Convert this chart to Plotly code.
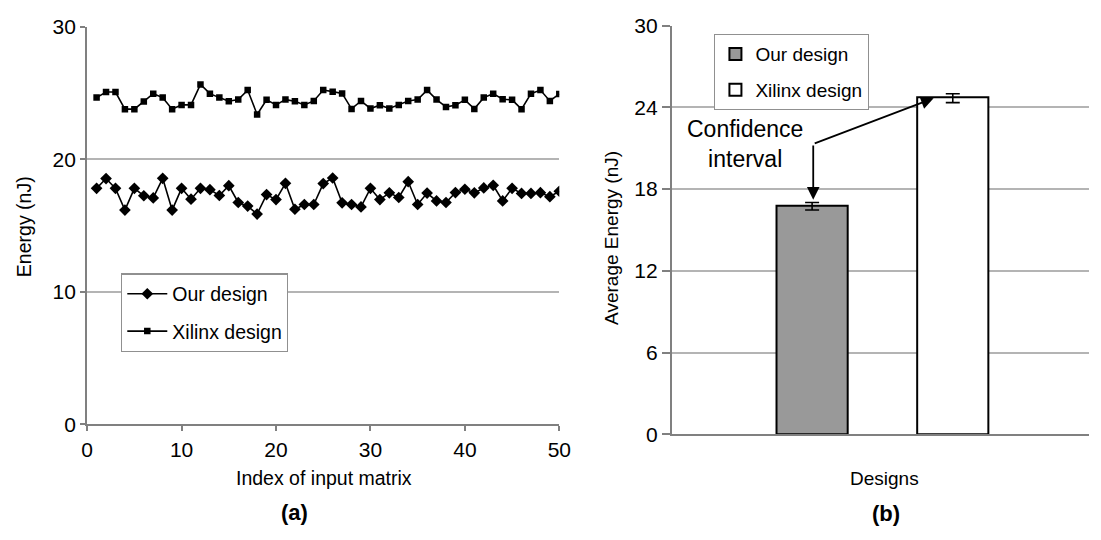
import plotly.graph_objects as go

# ---- data (a) ----
index = list(range(1, 51))
our_design = [17.82, 18.56, 17.82, 16.18, 17.82, 17.26, 17.10, 18.58, 16.18, 17.82,
              17.00, 17.82, 17.72, 17.28, 18.02, 16.75, 16.48, 15.88, 17.35, 16.97,
              18.20, 16.24, 16.60, 16.60, 18.18, 18.60, 16.73, 16.60, 16.42, 17.82,
              16.97, 17.48, 17.13, 18.32, 16.60, 17.46, 16.87, 16.75, 17.50, 17.75,
              17.48, 17.85, 18.05, 16.87, 17.82, 17.44, 17.44, 17.49, 17.19, 17.60]
xilinx_design = [24.67, 25.09, 25.09, 23.80, 23.80, 24.37, 24.97, 24.67, 23.80, 24.12,
                 24.12, 25.67, 24.97, 24.67, 24.40, 24.52, 25.24, 23.40, 24.50, 24.12,
                 24.52, 24.40, 24.12, 24.42, 25.24, 25.12, 24.99, 23.82, 24.42, 23.85,
                 24.10, 23.85, 24.12, 24.42, 24.52, 25.24, 24.52, 23.97, 24.10, 24.50,
                 23.82, 24.67, 24.97, 24.55, 24.50, 23.80, 24.97, 25.24, 24.42, 24.95]
y_ticks_a = [0, 10, 20, 30]
x_ticks_a = [0, 10, 20, 30, 40, 50]

# ---- data (b) ----
designs = ["Our design", "Xilinx design"]
avg_energy = [16.77, 24.75]
ci_plus = [0.25, 0.25]
ci_minus = [0.30, 0.40]
y_ticks_b = [0, 6, 12, 18, 24, 30]

W, H = 1101, 540
FONT = "Liberation Sans, Arial, sans-serif"
AX = "#808080"
GRID = "#b4b4b4"

def px(x):
    return x / W

def py(y):
    return 1 - y / H

fig = go.Figure()

fig.add_trace(go.Scatter(
    x=index, y=our_design, name="Our design", mode="lines+markers",
    line=dict(color="black", width=1.6),
    marker=dict(symbol="diamond", size=9, color="black"),
    xaxis="x", yaxis="y", legend="legend", legendgroup="a1"))
fig.add_trace(go.Scatter(
    x=index, y=xilinx_design, name="Xilinx design", mode="lines+markers",
    line=dict(color="black", width=1.6),
    marker=dict(symbol="square", size=6.5, color="black"),
    xaxis="x", yaxis="y", legend="legend", legendgroup="a2"))

fills = ["#999999", "#ffffff"]
for i, d in enumerate(designs):
    fig.add_trace(go.Bar(
        x=[d], y=[avg_energy[i]], name=d, width=0.506,
        marker=dict(color=fills[i], line=dict(color="black", width=2)),
        error_y=dict(type="data", symmetric=False, array=[ci_plus[i]],
                     arrayminus=[ci_minus[i]], color="black", thickness=1.6, width=7),
        xaxis="x2", yaxis="y2", legend="legend2", legendgroup="b%d" % i))

axis_common = dict(showline=True, linecolor=AX, linewidth=2, ticks="outside",
                   tickcolor=AX, ticklen=5, tickwidth=1.5,
                   tickfont=dict(family=FONT, size=21, color="black"),
                   zeroline=False)

fig.update_layout(
    width=W, height=H, margin=dict(l=0, r=0, t=0, b=0),
    paper_bgcolor="white", plot_bgcolor="white",
    font=dict(family=FONT, color="black"),
    barmode="overlay",
    xaxis=dict(domain=[px(82.5), px(562.5)], range=[0, 50], tickvals=x_ticks_a,
               showgrid=False, anchor="y", **axis_common),
    yaxis=dict(domain=[py(430.7), py(15.7)], range=[0, 30], tickvals=y_ticks_a,
               showgrid=True, gridcolor=GRID, gridwidth=1.5, anchor="x", **axis_common),
    xaxis2=dict(domain=[px(677), 1.0], range=[-0.9965, 1.9685], type="category",
                showticklabels=False, showline=True, linecolor=AX, linewidth=2,
                ticks="", showgrid=False, anchor="y2"),
    yaxis2=dict(domain=[py(441), py(14.3)], range=[0, 30], tickvals=y_ticks_b,
                showgrid=True, gridcolor=GRID, gridwidth=1.5, anchor="x2",
                **dict(axis_common, ticklen=8)),
    legend=dict(x=px(117), y=py(273), xanchor="left", yanchor="top",
                bgcolor="white", bordercolor="#909090", borderwidth=1.2,
                font=dict(family=FONT, size=19.5, color="black"),
                traceorder="grouped", tracegroupgap=9, itemwidth=40),
    legend2=dict(x=px(720), y=py(23), xanchor="left", yanchor="top",
                 bgcolor="white", bordercolor="#909090", borderwidth=1.2,
                 font=dict(family=FONT, size=19, color="black"),
                 traceorder="grouped", tracegroupgap=8, itemwidth=30),
    showlegend=True,
)

annots = [
    dict(text="Index of input matrix", x=px(323), y=py(487), font=dict(size=19.5)),
    dict(text="<b>(a)</b>", x=px(293), y=py(523), font=dict(size=22)),
    dict(text="Designs", x=px(893), y=py(487), font=dict(size=19)),
    dict(text="<b>(b)</b>", x=px(895), y=py(524), font=dict(size=22)),
    dict(text="Energy (nJ)", x=px(19), y=py(224), textangle=-90, font=dict(size=19.5)),
    dict(text="Average Energy (nJ)", x=px(616), y=py(236), textangle=-90, font=dict(size=19)),
]
for a in annots:
    fig.add_annotation(xref="paper", yref="paper", xanchor="center", yanchor="middle",
                       showarrow=False, **a)

fig.add_annotation(xref="x2", yref="y2", x=-0.479, y=21.33, text="Confidence<br>interval",
                   showarrow=False, font=dict(size=23, color="black"),
                   xanchor="center", yanchor="middle")
for tx, ty in [(0.008, 17.22), (0.864, 24.67)]:
    fig.add_annotation(xref="x2", yref="y2", axref="x2", ayref="y2",
                       x=tx, y=ty, ax=0.008, ay=21.31, text="",
                       showarrow=True, arrowhead=2, arrowsize=1.4, arrowwidth=1.8,
                       arrowcolor="black", standoff=0, startstandoff=0)

fig.write_html("out.html", config={"displayModeBar": False},
               post_script="document.body.style.margin='0';document.body.style.overflow='hidden';")
